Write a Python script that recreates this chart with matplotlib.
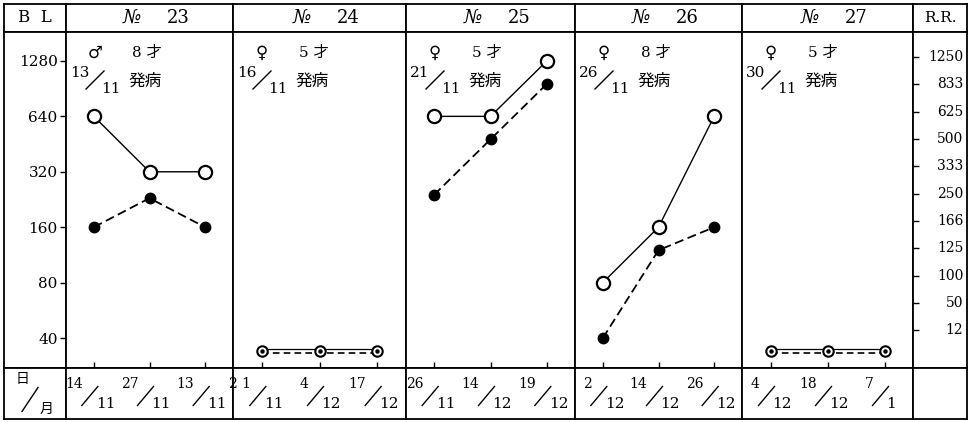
import numpy as np
import matplotlib.pyplot as plt
from matplotlib.lines import Line2D
from matplotlib.ticker import NullLocator
from matplotlib.transforms import offset_copy, blended_transform_factory

plt.rcParams['font.family'] = ['DejaVu Serif', 'Noto Sans CJK JP']

# data
cases = ['23', '24', '25', '26', '27']
sexes = ['♂', '♀', '♀', '♀', '♀']
ages = ['8', '5', '5', '8', '5']
onset_day = ['13', '16', '21', '26', '30']
onset_month = ['11', '11', '11', '11', '11']
date_days = [['14', '27', '13'], ['2 1', '4', '17'], ['26', '14', '19'],
             ['2', '14', '26'], ['4', '18', '7']]
date_months = [['11', '11', '11'], ['11', '12', '12'], ['11', '12', '12'],
               ['12', '12', '12'], ['12', '12', '1']]
# open circles (solid line) and filled circles (dashed line), BL titre
bl_open = [[640, 320, 320], [34, 34, 34], [640, 640, 1280], [80, 160, 640], [34, 34, 34]]
bl_filled = [[160, 230, 160], [34, 34, 34], [240, 480, 960], [40, 120, 160], [34, 34, 34]]
bl_ticks = [1280, 640, 320, 160, 80, 40]
rr_labels = ['1250', '833', '625', '500', '333', '250', '166', '125', '100', '50', '12']

W, H = 969, 422
fig = plt.figure(figsize=(W / 100, H / 100), dpi=100)

cols = [4, 66, 233, 406, 575, 742, 913, 967]
rows = [4, 32, 368, 419]


def cell(c, r):
    x0, x1 = cols[c], cols[c + 1]
    y0, y1 = rows[r], rows[r + 1]
    ax = fig.add_axes([x0 / W, 1 - y1 / H, (x1 - x0) / W, (y1 - y0) / H])
    ax.set_xticks([])
    ax.set_yticks([])
    for s in ax.spines.values():
        s.set_linewidth(1.3)
    return ax


def ptext(x, y, s, **kw):
    # x, y in display pixels (origin bottom left)
    fig.text(x / W, y / H, s, **kw)


def pline(x0, y0, x1, y1, lw=1.0):
    fig.add_artist(Line2D([x0 / W, x1 / W], [y0 / H, y1 / H],
                          transform=fig.transFigure, color='black', lw=lw))


# header row
ax = cell(0, 0)
ax.text(0.5, 0.5, 'B  L', ha='center', va='center', fontsize=12, transform=ax.transAxes)
for i, case in enumerate(cases):
    ax = cell(i + 1, 0)
    ax.text(0.5, 0.5, '№', ha='center', va='center', fontsize=14, fontstyle='italic',
            transform=offset_copy(ax.transAxes, fig=fig, x=-18, y=0, units='dots'))
    ax.text(0.5, 0.5, case, ha='center', va='center', fontsize=13,
            transform=offset_copy(ax.transAxes, fig=fig, x=29, y=0, units='dots'))
ax = cell(6, 0)
ax.text(0.5, 0.5, 'R.R.', ha='center', va='center', fontsize=11, transform=ax.transAxes)

# main row
cell(0, 1)
x = np.arange(3)
for i in range(5):
    ax = cell(i + 1, 1)
    ax.set_yscale('log', base=2)
    ax.set_ylim(27.5, 1838)
    ax.set_xlim(-0.5, 2.5)
    ax.yaxis.set_minor_locator(NullLocator())
    ax.set_xticks([0, 1, 2])
    ax.set_xticklabels([])
    ax.tick_params(axis='x', direction='in', length=4, width=1)
    if i == 0:
        ax.set_yticks(bl_ticks)
        ax.set_yticklabels([str(v) for v in bl_ticks])
        ax.tick_params(axis='y', direction='out', length=4, width=1, pad=2, labelsize=11)
    else:
        ax.set_yticks([])

    if bl_open[i] == bl_filled[i]:
        up = offset_copy(ax.transData, fig=fig, x=0, y=1.8, units='dots')
        dn = offset_copy(ax.transData, fig=fig, x=0, y=-1.8, units='dots')
        ax.plot(x, bl_filled[i], color='black', lw=1.2, ls=(0, (4, 2.5)), transform=dn)
        ax.plot(x, bl_open[i], color='black', lw=0.9, transform=up)
        ax.plot(x, bl_open[i], ls='none', marker='o', ms=7.5, mfc='white',
                mec='black', mew=1.5, zorder=3)
        ax.plot(x, bl_filled[i], ls='none', marker='o', ms=2.2, color='black', zorder=4)
    else:
        ax.plot(x, bl_open[i], color='black', lw=1.0, marker='o', ms=9.5,
                mfc='white', mec='black', mew=1.6, zorder=3)
        ax.plot(x, bl_filled[i], color='black', lw=1.3, ls=(0, (5, 2.5)),
                marker='o', ms=7.5, zorder=3)

    # case notes in the top left corner
    X0, Y0 = ax.transAxes.transform((0, 1))
    ptext(X0 + 29, Y0 - 21, sexes[i], ha='center', va='center', fontsize=12,
          family=['DejaVu Sans'])
    ptext(X0 + 66, Y0 - 21, ages[i] + ' 才', ha='left', va='center', fontsize=11)
    ptext(X0 + 4, Y0 - 41, onset_day[i], ha='left', va='center', fontsize=11)
    pline(X0 + 20, Y0 - 57, X0 + 38, Y0 - 39)
    ptext(X0 + 35, Y0 - 57, onset_month[i], ha='left', va='center', fontsize=11)
    ptext(X0 + 62, Y0 - 49, '発病', ha='left', va='center', fontsize=12)

ax = cell(6, 1)
ax.set_ylim(11.38, -0.92)
ax.set_yticks(range(len(rr_labels)))
ax.tick_params(axis='y', direction='in', length=4, width=1, labelleft=False)
tr = blended_transform_factory(ax.transAxes, ax.transData)
for k, lab in enumerate(rr_labels):
    ax.text(0.93, k, lab, transform=tr, ha='right', va='center', fontsize=10)

# bottom row (dates)
ax = cell(0, 2)
Xc, Yc = ax.transAxes.transform((0.5, 0.5))
ptext(Xc - 13, Yc + 14, '日', ha='center', va='center', fontsize=10)
pline(Xc - 13, Yc - 18, Xc + 3, Yc + 6)
ptext(Xc + 12, Yc - 15, '月', ha='center', va='center', fontsize=10)

for i in range(5):
    ax = cell(i + 1, 2)
    ax.set_xlim(-0.5, 2.5)
    ax.set_ylim(0, 1)
    for j in range(3):
        X, Y = ax.transData.transform((j, 0.5))
        ptext(X - 11, Y + 9, date_days[i][j], ha='right', va='center', fontsize=10)
        pline(X - 12, Y - 12, X + 4, Y + 7)
        ptext(X + 2, Y - 11, date_months[i][j], ha='left', va='center', fontsize=11)
cell(6, 2)

fig.savefig('out.png', dpi=100)
